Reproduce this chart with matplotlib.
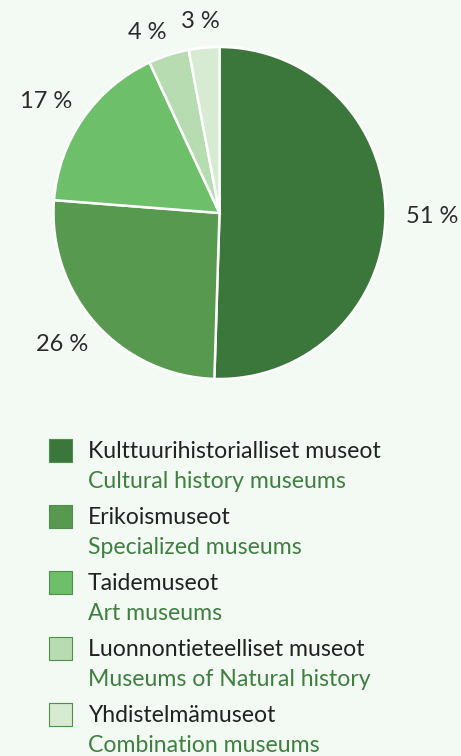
import numpy as np
import matplotlib.pyplot as plt
from matplotlib.patches import Rectangle

# museum types, share of museums (%)
labels_fi = ['Kulttuurihistorialliset museot', 'Erikoismuseot', 'Taidemuseot',
             'Luonnontieteelliset museot', 'Yhdistelmämuseot']
labels_en = ['Cultural history museums', 'Specialized museums', 'Art museums',
             'Museums of Natural history', 'Combination museums']
shares = [51, 26, 17, 4, 3]
colors = ['#3b773b', '#56994f', '#6dbf69', '#b7dcb1', '#d6ebd1']
label_dist = [1.28, 1.235, 1.24, 1.17, 1.16]  # how far out each % label sits
label_turn = [0, -2, 2, 4, 0.5]  # small angular nudges (deg)

bg = '#f3faf4'
plt.rcParams['font.family'] = ['Lato', 'DejaVu Sans']

fig = plt.figure(figsize=(4.61, 7.56), dpi=100, facecolor=bg)
ax = fig.add_axes([0, 0, 1, 1])
ax.set_aspect('equal')
ax.axis('off')

cx, cy, r = 219.5, 543, 166
wedges, _ = ax.pie(shares, colors=colors, startangle=90, counterclock=False,
                   center=(cx, cy), radius=r,
                   wedgeprops=dict(edgecolor='white', linewidth=1.8))
for w, s, d, t in zip(wedges, shares, label_dist, label_turn):
    ang = np.deg2rad((w.theta1 + w.theta2) / 2 + t)
    ax.text(cx + d * r * np.cos(ang), cy + d * r * np.sin(ang), f'{s} %',
            fontsize=17, color='#2b2b2b', ha='center', va='center')
ax.set_xlim(0, 461)
ax.set_ylim(0, 756)

# legend
top = 304
step = 66
for i, (fi, en, c) in enumerate(zip(labels_fi, labels_en, colors)):
    y = top - i * step
    ax.add_patch(Rectangle((49, y - 9.5), 23, 23, facecolor=c,
                           edgecolor='#4f8f4c', linewidth=0.8))
    ax.text(88, y, fi, fontsize=16.6, color='#222222', va='center', ha='left')
    ax.text(88, y - 29, en, fontsize=16.6, color='#3f8040', va='center', ha='left')

fig.savefig('out.png', dpi=100, facecolor=bg)
